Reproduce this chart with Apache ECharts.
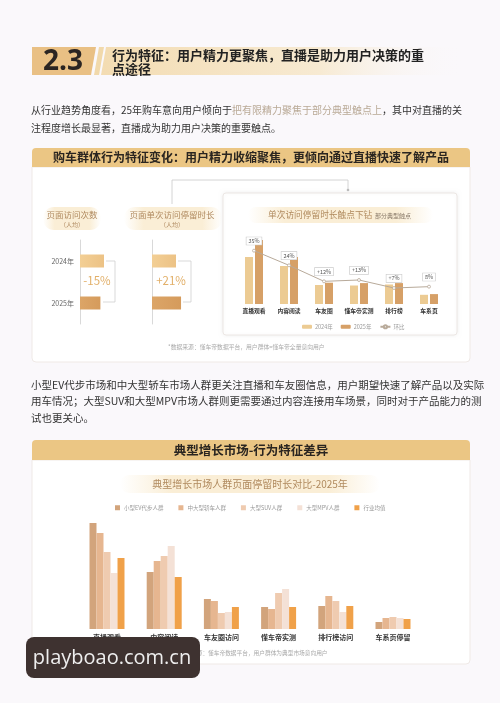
<!DOCTYPE html>
<html><head><meta charset="utf-8">
<script src="https://cdn.jsdelivr.net/npm/echarts@6/dist/echarts.min.js"></script>
<style>html,body{margin:0;padding:0;background:#faf8fb}#c{width:500px;height:703px}</style>
</head><body><div id="c"></div>
<script>
// ---------- data ----------
const years = ['2024年', '2025年'];
const visitIndex = [100, 85];          // 页面访问次数（人均），2024=100
const durationIndex = [100, 121];      // 页面单次访问停留时长（人均），2024=100
const visitChange = '-15%';
const durationChange = '+21%';

const touchCats = ['直播观看', '内容阅读', '车友圈', '懂车帝实测', '排行榜', '车系页'];
const touch2024 = [47, 38, 19, 18.5, 19.5, 9.2];
const touch2025 = [64, 47, 21.3, 20.9, 20.9, 9.9];
const touchGrowth = [35, 24, 12, 13, 7, 8];
const touchGrowthLabels = ['35%', '24%', '+12%', '+13%', '+7%', '8%'];

const marketCats = ['直播观看', '内容阅读', '车友圈访问', '懂车帝实测', '排行榜访问', '车系页停留'];
const marketNames = ['小型EV代步人群', '中大型轿车人群', '大型SUV人群', '大型MPV人群', '行业均值'];
const smallEV = [106, 57, 30, 22, 23, 7];
const midSedan = [96, 68, 28, 20, 33, 11];
const largeSUV = [77, 73, 16, 36, 28, 12];
const largeMPV = [56, 83, 17, 40, 17, 11];
const industryAvg = [71, 52, 22, 22, 23, 10];

// ---------- helpers ----------
const FF = '"Noto Sans CJK SC","Noto Sans",sans-serif';
function T(x, y, text, size, color, o) {
  o = o || {};
  return {
    type: 'text', x: x, y: y, z: o.z || 50,
    style: {
      text: text, fill: color, fontSize: size, fontFamily: o.ff || FF,
      fontWeight: o.bold ? 'bold' : 'normal',
      align: o.align || 'left', textAlign: o.align || 'left',
      verticalAlign: 'middle', textVerticalAlign: 'middle',
      rich: o.rich
    }
  };
}
function R(x, y, w, h, fill, o) {
  o = o || {};
  return {
    type: 'rect', z: o.z != null ? o.z : -5,
    shape: { x: x, y: y, width: w, height: h, r: o.r || 0 },
    style: { fill: fill, stroke: o.stroke || null, lineWidth: o.lw || 1,
      shadowBlur: o.sb || 0, shadowColor: o.sc || 'transparent' }
  };
}
const LG = (stops, dir) => new echarts.graphic.LinearGradient(0, 0, dir ? 0 : 1, dir ? 1 : 0, stops);
const pillFill = () => LG([{ offset: 0, color: 'rgba(250,238,214,0)' }, { offset: 0.2, color: 'rgba(250,238,214,1)' }, { offset: 0.8, color: 'rgba(250,238,214,1)' }, { offset: 1, color: 'rgba(250,238,214,0)' }]);

const G = [];
G.push(R(0, 0, 500, 703, '#faf8fb', { z: -20 }));
// header
G.push({ type: 'polygon', z: -5, shape: { points: [[32, 47], [96, 47], [91, 75], [32, 75]] }, style: { fill: '#e9c084' } });
G.push({ type: 'polygon', z: -5, shape: { points: [[99, 47], [104, 47], [99, 75], [94, 75]] }, style: { fill: '#f1d9ab' } });
G.push({ type: 'polygon', z: -5, shape: { points: [[106, 47], [465, 47], [465, 75], [101, 75]] },
  style: { fill: LG([{ offset: 0, color: '#f3dcb2' }, { offset: 0.6, color: '#f7ead2' }, { offset: 1, color: 'rgba(250,248,251,0)' }]) } });
G.push(T(63, 62, '2.3', 28, '#2b2522', { bold: true, align: 'center', ff: '"Open Sans","Noto Sans",sans-serif' }));
G.push(T(112, 55, '行为特征：用户精力更聚焦，直播是助力用户决策的重', 13, '#222', { bold: true }));
G.push(T(112, 69, '点途径', 13, '#222', { bold: true }));

// paragraph 1
G.push(T(31, 110, '{a|从行业趋势角度看，25年购车意向用户倾向于}{b|把有限精力聚焦于部分典型触点上}{a|，其中对直播的关}', 10, '#333',
  { rich: { a: { fill: '#333', fontSize: 10, fontFamily: FF }, b: { fill: '#b9a996', fontSize: 10, fontFamily: FF } } }));
G.push(T(31, 128, '注程度增长最显著，直播成为助力用户决策的重要触点。', 10, '#333'));

// section 1
G.push(R(32, 148, 438, 19, '#ebc684', { r: [4, 4, 0, 0] }));
G.push(T(251, 157.5, '购车群体行为特征变化：用户精力收缩聚焦，更倾向通过直播快速了解产品', 12, '#2a2520', { bold: true, align: 'center' }));
G.push(R(32, 167, 438, 195, '#ffffff', { r: [0, 0, 4, 4], stroke: '#efe9e6', z: -6 }));
G.push({ type: 'polyline', z: 5, shape: { points: [[172, 204], [172, 180], [348, 180], [348, 190]] }, style: { stroke: '#c9c9c9', lineWidth: 0.8, fill: null } });
G.push({ type: 'circle', z: 5, shape: { cx: 348, cy: 190, r: 1.3 }, style: { fill: '#bbb' } });
G.push(R(43, 207, 58, 23, pillFill(), { r: 11 }));
G.push(R(124, 207, 98, 23, pillFill(), { r: 11 }));
G.push(T(72, 215, '页面访问次数', 8.5, '#b08a60', { align: 'center' }));
G.push(T(72, 224.5, '（人均）', 6, '#b08a60', { align: 'center' }));
G.push(T(172, 215, '页面单次访问停留时长', 8.5, '#b08a60', { align: 'center' }));
G.push(T(172, 224.5, '（人均）', 6, '#b08a60', { align: 'center' }));
G.push({ type: 'polyline', z: 5, shape: { points: [[106, 261], [115, 261], [115, 302], [103, 302]] }, style: { stroke: '#cfcfcf', lineWidth: 0.8, fill: null } });
G.push({ type: 'polyline', z: 5, shape: { points: [[178, 261], [191, 261], [191, 302], [183, 302]] }, style: { stroke: '#cfcfcf', lineWidth: 0.8, fill: null } });
G.push(T(97, 281, visitChange, 11.5, '#e2b06a', { align: 'center' }));
G.push(T(171, 281, durationChange, 11.5, '#e2b06a', { align: 'center' }));
G.push(R(223, 193, 234, 142, '#ffffff', { r: 3, stroke: '#ece7e4', sb: 4, sc: 'rgba(0,0,0,0.06)', z: -4 }));
G.push(R(248, 207, 185, 16, pillFill(), { r: 8, z: -3 }));
G.push(T(268, 215, '单次访问停留时长触点下钻', 8.7, '#b08a5e'));
G.push(T(375, 215.5, '部分典型触点', 6, '#8a7b6a'));
G.push(T(168, 347, '*数据来源：懂车帝数据平台，用户群体=懂车帝全量意向用户', 5.8, '#a9a9a9'));

// paragraph 2
G.push(T(31, 385, '小型EV代步市场和中大型轿车市场人群更关注直播和车友圈信息，用户期望快速了解产品以及实际', 10.5, '#333'));
G.push(T(31, 401.5, '用车情况；大型SUV和大型MPV市场人群则更需要通过内容连接用车场景，同时对于产品能力的测', 10.5, '#333'));
G.push(T(31, 418, '试也更关心。', 10.5, '#333'));

// section 2
G.push(R(32, 440, 438, 20, '#ebc684', { r: [4, 4, 0, 0] }));
G.push(T(251, 450.5, '典型增长市场-行为特征差异', 12.5, '#2a2520', { bold: true, align: 'center' }));
G.push(R(32, 460, 438, 204, '#ffffff', { r: [0, 0, 4, 4], stroke: '#efe9e6', z: -6 }));
G.push(R(120, 475, 260, 18, pillFill(), { r: 9 }));
G.push(T(250, 484, '典型增长市场人群页面停留时长对比-2025年', 10, '#b08a5e', { align: 'center' }));
G.push(T(177, 653, '*数据来源：懂车帝数据平台，用户群体为典型市场意向用户', 5.7, '#a9a9a9'));

// watermark
G.push({ type: 'rect', z: 1000, shape: { x: 26, y: 637, width: 174, height: 41, r: 8 }, style: { fill: '#3e3230' } });
G.push(T(112, 658, 'playboao.com.cn', 20, '#eeeeee', { align: 'center', z: 1001, ff: '"Open Sans","DejaVu Sans",sans-serif' }));

// ---------- chart ----------
const chart = echarts.init(document.getElementById('c'), null, { renderer: 'canvas' });
const miniColors = [LG([{ offset: 0, color: '#f3cf95' }, { offset: 1, color: '#ecc285' }]), LG([{ offset: 0, color: '#dca567' }, { offset: 1, color: '#d59b5c' }])];
const mkMini = arr => arr.map((v, i) => ({ value: v, itemStyle: { color: miniColors[i] } }));
const mColors = ['#d2a47c', '#e6b690', '#efcbb0', '#f4e1d6', '#f0a149'];
const marketData = [smallEV, midSedan, largeSUV, largeMPV, industryAvg];

const option = {
  animation: false,
  graphic: { elements: G },
  textStyle: { fontFamily: FF },
  legend: [
    { data: ['2024年', '2025年', '环比'], left: 297, top: 319, itemWidth: 10, itemHeight: 4, itemGap: 8,
      textStyle: { fontSize: 5.5, color: '#9a9a9a', padding: [0, 0, 0, -2] } },
    { data: marketNames, left: 110, top: 500, itemWidth: 5, itemHeight: 5, itemGap: 15, icon: 'rect',
      textStyle: { fontSize: 5.5, color: '#9a9a9a', padding: [0, 0, 0, -1] } }
  ],
  grid: [
    { left: 80, top: 240, width: 60, height: 84 },
    { left: 152, top: 240, width: 60, height: 84 },
    { left: 236.5, top: 204, width: 210, height: 100 },
    { left: 78.4, top: 509, width: 343.2, height: 120 }
  ],
  xAxis: [
    { gridIndex: 0, type: 'value', min: 0, max: 250, show: false },
    { gridIndex: 1, type: 'value', min: 0, max: 250, show: false },
    { gridIndex: 2, type: 'category', data: touchCats, axisLine: { show: false }, axisTick: { show: false },
      axisLabel: { interval: 0, fontSize: 5.8, fontWeight: 'bold', color: '#333', margin: 4 } },
    { gridIndex: 3, type: 'category', data: marketCats, axisLine: { show: false }, axisTick: { show: false },
      axisLabel: { interval: 0, fontSize: 7, fontWeight: 'bold', color: '#333', margin: 5 } }
  ],
  yAxis: [
    { gridIndex: 0, type: 'category', data: years, inverse: true, axisTick: { show: false },
      axisLine: { lineStyle: { color: '#cfcfcf', width: 0.8 } }, axisLabel: { fontSize: 7, color: '#666', margin: 6 } },
    { gridIndex: 1, type: 'category', data: years, inverse: true, axisTick: { show: false },
      axisLine: { lineStyle: { color: '#cfcfcf', width: 0.8 } }, axisLabel: { show: false } },
    { gridIndex: 2, type: 'value', min: 0, max: 100, show: false },
    { gridIndex: 2, type: 'value', min: -5, max: 70, show: false },
    { gridIndex: 3, type: 'value', min: 0, max: 120, show: false }
  ],
  series: [
    { name: '页面访问次数', type: 'bar', xAxisIndex: 0, yAxisIndex: 0, barWidth: 13, data: mkMini(visitIndex) },
    { name: '页面单次访问停留时长', type: 'bar', xAxisIndex: 1, yAxisIndex: 1, barWidth: 13, data: mkMini(durationIndex) },
    { name: '2024年', type: 'bar', xAxisIndex: 2, yAxisIndex: 2, barWidth: 8, barGap: '25%', data: touch2024, itemStyle: { color: '#eccb93' } },
    { name: '2025年', type: 'bar', xAxisIndex: 2, yAxisIndex: 2, barWidth: 8, barGap: '25%', data: touch2025, itemStyle: { color: '#d6a067' } },
    { name: '环比', type: 'line', xAxisIndex: 2, yAxisIndex: 3, data: touchGrowth, z: 5,
      symbol: 'circle', symbolSize: 3, lineStyle: { color: '#b8aa9a', width: 1 },
      itemStyle: { color: '#fff', borderColor: '#b8aa9a', borderWidth: 0.8 },
      label: { show: true, position: 'top', distance: 4, fontSize: 5.5, color: '#555',
        backgroundColor: '#fff', borderColor: '#c9c9c9', borderWidth: 0.6, padding: [1, 2],
        formatter: p => touchGrowthLabels[p.dataIndex] } },
    ...marketNames.map((n, i) => ({
      name: n, type: 'bar', xAxisIndex: 3, yAxisIndex: 4, barWidth: 7, barGap: '0%', data: marketData[i],
      itemStyle: { color: mColors[i] }
    }))
  ]
};
chart.setOption(option);
</script>
</body></html>
